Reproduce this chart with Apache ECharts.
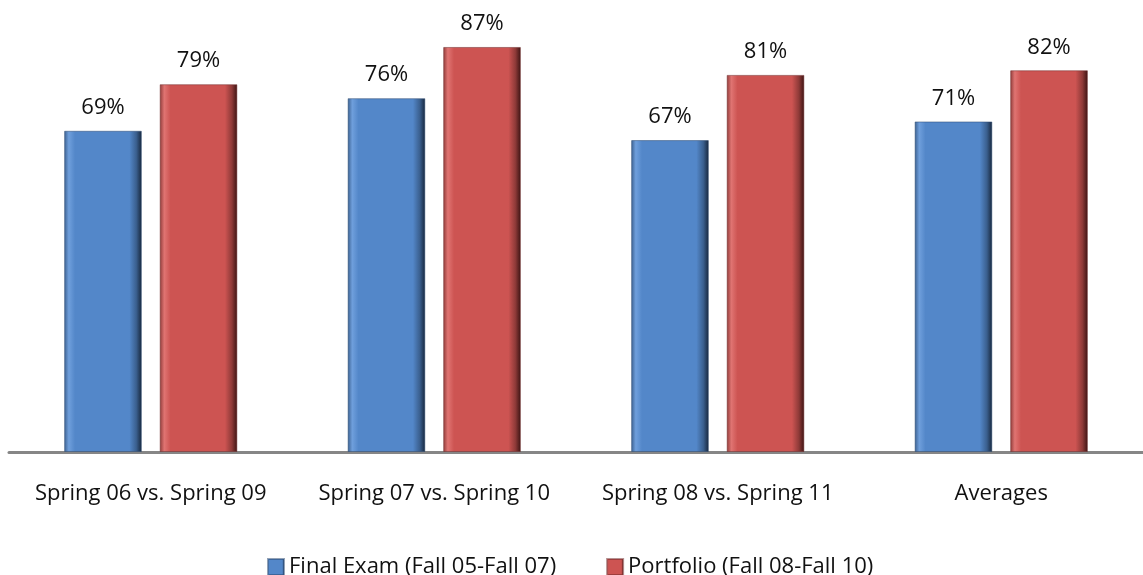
<!DOCTYPE html>
<html>
<head>
<meta charset="utf-8">
<script src="https://cdn.jsdelivr.net/npm/echarts@6/dist/echarts.min.js"></script>
<style>
  html, body { margin: 0; padding: 0; background: #fff; }
  #chart { width: 1143px; height: 575px; }
</style>
</head>
<body>
<div id="chart"></div>
<script>
const categories = ["Spring 06 vs. Spring 09", "Spring 07 vs. Spring 10", "Spring 08 vs. Spring 11", "Averages"]
const finalExam = [69, 76, 67, 71]
const portfolio = [79, 87, 81, 82]
const seriesNames = ["Final Exam (Fall 05-Fall 07)", "Portfolio (Fall 08-Fall 10)"]

const font = "'Open Sans', 'Noto Sans', sans-serif"

// bevel look: light left edge, flat middle, dark right edge
function bevel(light, base, dark, darkest) {
    return new echarts.graphic.LinearGradient(0, 0, 1, 0, [
        { offset: 0, color: dark },
        { offset: 0.06, color: light },
        { offset: 0.14, color: base },
        { offset: 0.84, color: base },
        { offset: 0.93, color: dark },
        { offset: 1, color: darkest },
    ])
}

const chart = echarts.init(document.getElementById("chart"), null, { renderer: "canvas" })
const label = {
    show: true,
    position: "top",
    distance: 12,
    formatter: "{c}%",
    fontFamily: font,
    fontSize: 22,
    color: "#111",
}
chart.setOption({
    animation: false,
    grid: { left: 9, width: 1140, top: 33, bottom: 123 },
    legend: {
        top: 551,
        left: 262,
        itemWidth: 16,
        itemHeight: 16,
        itemGap: 50,
        icon: "rect",
        textStyle: { fontFamily: font, fontSize: 22, color: "#111" },
        data: seriesNames,
    },
    xAxis: {
        type: "category",
        data: categories,
        axisLine: { lineStyle: { color: "#868686", width: 3 } },
        axisTick: { show: false },
        axisLabel: { interval: 0, fontFamily: font, fontSize: 22, color: "#111", margin: 31 },
    },
    yAxis: {
        type: "value",
        min: 0,
        max: 90,
        show: false,
        splitLine: { show: false },
    },
    series: [
        {
            name: seriesNames[0],
            type: "bar",
            data: finalExam,
            barWidth: "27.4%",
            barGap: "23%",
            label,
            itemStyle: {
                color: bevel("#6f9fdc", "#5387c9", "#3a5f8e", "#16253a"),
                borderColor: "rgba(40,70,110,0.5)",
                borderWidth: 1,
            },
        },
        {
            name: seriesNames[1],
            type: "bar",
            data: portfolio,
            barWidth: "27.4%",
            label,
            itemStyle: {
                color: bevel("#e07472", "#cd5452", "#8e3a38", "#3a1312"),
                borderColor: "rgba(110,40,40,0.5)",
                borderWidth: 1,
            },
        },
    ],
})
</script>
</body>
</html>
